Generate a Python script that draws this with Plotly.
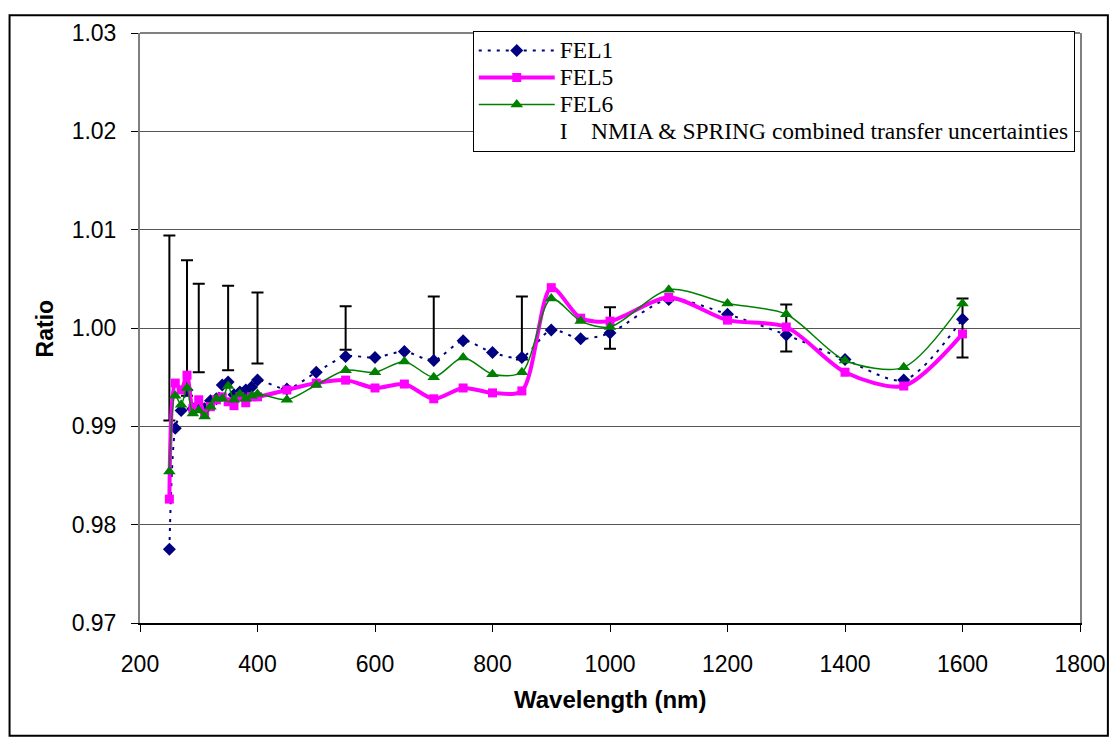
import plotly.graph_objects as go

wavelength = [250, 260, 270, 280, 290, 300, 310, 320, 330, 340, 350, 360, 370, 380, 390, 400,
              450, 500, 550, 600, 650, 700, 750, 800, 850, 900, 950, 1000, 1100, 1200, 1300,
              1400, 1500, 1600]

fel1 = [0.9775, 0.9898, 0.9916, 0.9937, 0.9918, 0.9922, 0.9918, 0.9926, 0.9928, 0.9942,
        0.9945, 0.9932, 0.9935, 0.9937, 0.9940, 0.9947, 0.9938, 0.9955, 0.9971, 0.9970,
        0.9976, 0.9967, 0.9987, 0.9975, 0.9970, 0.9998, 0.9989, 0.9995, 1.0029, 1.0014,
        0.9993, 0.9968, 0.9947, 1.0009]

fel5 = [0.9826, 0.9944, 0.9937, 0.9952, 0.9918, 0.9927, 0.9913, 0.9920, 0.9927, 0.9930,
        0.9925, 0.9921, 0.9930, 0.9924, 0.9930, 0.9930, 0.9937, 0.9944, 0.9947, 0.9939,
        0.9943, 0.9928, 0.9939, 0.9934, 0.9936, 1.0041, 1.0010, 1.0007, 1.0031, 1.0008,
        1.0001, 0.9955, 0.9941, 0.9994]

fel6 = [0.9854, 0.9931, 0.9922, 0.9939, 0.9913, 0.9916, 0.9910, 0.9920, 0.9928, 0.9928,
        0.9941, 0.9927, 0.9933, 0.9928, 0.9931, 0.9933, 0.9927, 0.9942, 0.9957, 0.9955,
        0.9966, 0.9950, 0.9970, 0.9953, 0.9955, 1.0030, 1.0007, 1.0001, 1.0039, 1.0025,
        1.0014, 0.9967, 0.9960, 1.0025]

unc_wavelength = [250, 280, 300, 350, 400, 550, 700, 850, 1000, 1300, 1600]
unc_center = [1.0] * len(unc_wavelength)
unc_value = [0.0094, 0.0069, 0.0045, 0.0043, 0.0036, 0.0022, 0.0032, 0.0032, 0.0021, 0.0024, 0.0030]

y_ticks = [0.97, 0.98, 0.99, 1.00, 1.01, 1.02, 1.03]
y_tick_labels = ["0.97", "0.98", "0.99", "1.00", "1.01", "1.02", "1.03"]
x_ticks = [200, 400, 600, 800, 1000, 1200, 1400, 1600, 1800]

W, H = 1110, 730
L, T, PW, PH = 132, 19, 944, 596


def legend_name(s):
    return '<span style="font-size:23.5px">' + s + '</span>'


fig = go.Figure()

fig.add_trace(go.Scatter(
    x=unc_wavelength, y=unc_center, mode="markers",
    name=legend_name("I\u00a0\u00a0\u00a0\u00a0NMIA &amp; SPRING combined transfer uncertainties"),
    marker=dict(size=1, color="rgba(0,0,0,0)"),
    error_y=dict(type="data", array=unc_value, visible=True, color="black",
                 thickness=2, width=6),
    legendrank=4, hoverinfo="skip"))

fig.add_trace(go.Scatter(
    x=wavelength, y=fel1, mode="lines+markers", name=legend_name("FEL1"),
    line=dict(color="#000080", width=2, dash="3px,6px", shape="spline", smoothing=0.8),
    marker=dict(symbol="diamond", size=10, color="#000080"),
    legendrank=1))

fig.add_trace(go.Scatter(
    x=wavelength, y=fel5, mode="lines+markers", name=legend_name("FEL5"),
    line=dict(color="#FF00FF", width=4, shape="spline", smoothing=0.8),
    marker=dict(symbol="square", size=9, color="#FF00FF"),
    legendrank=2))

fig.add_trace(go.Scatter(
    x=wavelength, y=fel6, mode="lines+markers", name=legend_name("FEL6"),
    line=dict(color="#008000", width=1.5, shape="spline", smoothing=0.8),
    marker=dict(symbol="triangle-up", size=11, color="#008000"),
    legendrank=3))

fig.update_layout(
    width=W, height=H,
    margin=dict(l=L, r=W - L - PW, t=T, b=H - T - PH),
    paper_bgcolor="white", plot_bgcolor="white",
    showlegend=True,
    legend=dict(x=0.354, y=1.0035, xanchor="left", yanchor="top",
                bgcolor="white", bordercolor="black", borderwidth=1,
                font=dict(family="Liberation Serif, Times New Roman, serif", size=18.5, color="black"),
                itemwidth=76, tracegroupgap=0),
    xaxis=dict(range=[200, 1800], tickvals=x_ticks, ticks="outside", ticklen=7,
               tickcolor="black", tickwidth=1, showgrid=False, zeroline=False,
               showline=True, linecolor="black", linewidth=2,
               tickfont=dict(family="Liberation Sans, Arial, sans-serif", size=23, color="black"),
               ticklabelstandoff=12),
    yaxis=dict(range=[0.97, 1.03], tickvals=y_ticks, ticktext=y_tick_labels,
               ticks="outside", ticklen=7, tickcolor="black", tickwidth=1,
               showgrid=True, gridcolor="#555555", gridwidth=1, zeroline=False,
               showline=True, linecolor="#808080", linewidth=2, mirror=True,
               tickfont=dict(family="Liberation Sans, Arial, sans-serif", size=23, color="black"),
               ticklabelstandoff=10),
    annotations=[
        dict(text="<b>Ratio</b>", x=(37 - L) / PW, y=0.5, xref="paper", yref="paper",
             xanchor="center", yanchor="middle", textangle=-90, showarrow=False,
             font=dict(family="Liberation Sans, Arial, sans-serif", size=23, color="black")),
        dict(text="<b>Wavelength (nm)</b>", x=0.5, y=(T + PH - 692) / PH, xref="paper", yref="paper",
             xanchor="center", yanchor="middle", showarrow=False,
             font=dict(family="Liberation Sans, Arial, sans-serif", size=24, color="black")),
    ],
    shapes=[
        dict(type="line", xref="paper", yref="paper", x0=0, x1=1, y0=1, y1=1,
             line=dict(color="#808080", width=2)),
        dict(type="rect", xref="paper", yref="paper",
             x0=(1 - L) / PW, x1=(1104 - L) / PW,
             y0=(T + PH - 729) / PH, y1=(T + PH - 1) / PH,
             line=dict(color="black", width=2), fillcolor="rgba(0,0,0,0)"),
    ],
)

fig.write_html("out.html")
